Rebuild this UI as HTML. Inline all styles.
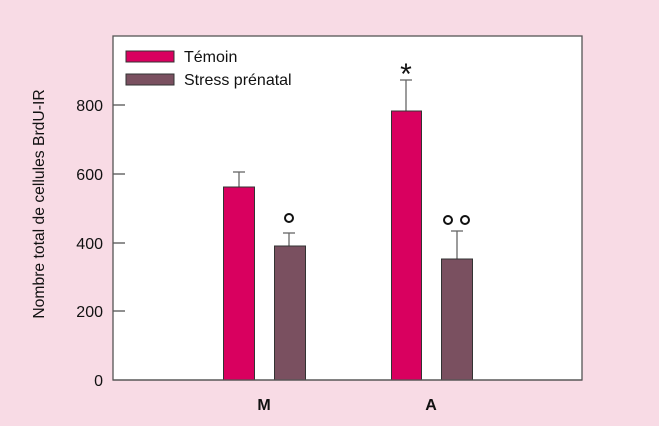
<!DOCTYPE html>
<html><head><meta charset="utf-8"><style>
body{margin:0;background:#f8dbe5;}
svg{display:block;font-family:"Liberation Sans",Arial,sans-serif;}
</style></head><body>
<svg width="659" height="426" viewBox="0 0 659 426">
<rect x="0" y="0" width="659" height="426" fill="#f8dbe5"/>
<rect x="113" y="36" width="469" height="344" fill="#fff" stroke="#555" stroke-width="1.3"/>
<g stroke="#555" stroke-width="1.3">
<line x1="113" y1="105" x2="125" y2="105"/>
<line x1="113" y1="174" x2="125" y2="174"/>
<line x1="113" y1="243" x2="125" y2="243"/>
<line x1="113" y1="311" x2="125" y2="311"/>
</g>
<g font-size="16" fill="#111" text-anchor="end">
<text x="103" y="111">800</text>
<text x="103" y="180">600</text>
<text x="103" y="249">400</text>
<text x="103" y="317">200</text>
<text x="103" y="386">0</text>
</g>
<text transform="translate(44,204) rotate(-90)" font-size="15.7" fill="#111" text-anchor="middle">Nombre total de cellules BrdU-IR</text>
<rect x="126" y="51" width="48" height="11" fill="#d9005f" stroke="#333"/>
<rect x="126" y="74" width="48" height="11" fill="#7a5060" stroke="#333"/>
<text x="184" y="62" font-size="16" fill="#111">Témoin</text>
<text x="184" y="85" font-size="16" fill="#111">Stress prénatal</text>
<g stroke="#666" stroke-width="1.3">
<line x1="239" y1="187" x2="239" y2="172"/><line x1="233" y1="172" x2="245" y2="172"/>
<line x1="289" y1="246" x2="289" y2="233"/><line x1="283" y1="233" x2="295" y2="233"/>
<line x1="406" y1="111" x2="406" y2="80"/><line x1="400" y1="80" x2="412" y2="80"/>
<line x1="457" y1="259" x2="457" y2="231"/><line x1="451" y1="231" x2="463" y2="231"/>
</g>
<g stroke="#333" stroke-width="1">
<rect x="223.5" y="187" width="31" height="193" fill="#d9005f"/>
<rect x="274.5" y="246" width="31" height="134" fill="#7a5060"/>
<rect x="391.5" y="111" width="30" height="269" fill="#d9005f"/>
<rect x="441.5" y="259" width="31" height="121" fill="#7a5060"/>
</g>
<g fill="none" stroke="#111" stroke-width="2">
<circle cx="289" cy="218" r="4"/>
<circle cx="448" cy="220" r="4"/>
<circle cx="465" cy="220" r="4"/>
</g>
<text x="406" y="84" font-size="30" fill="#111" text-anchor="middle">*</text>
<line x1="113" y1="380" x2="582" y2="380" stroke="#555" stroke-width="1.3"/>
<text x="264" y="410" font-size="16" font-weight="bold" fill="#111" text-anchor="middle">M</text>
<text x="431" y="410" font-size="16" font-weight="bold" fill="#111" text-anchor="middle">A</text>
</svg>
</body></html>
